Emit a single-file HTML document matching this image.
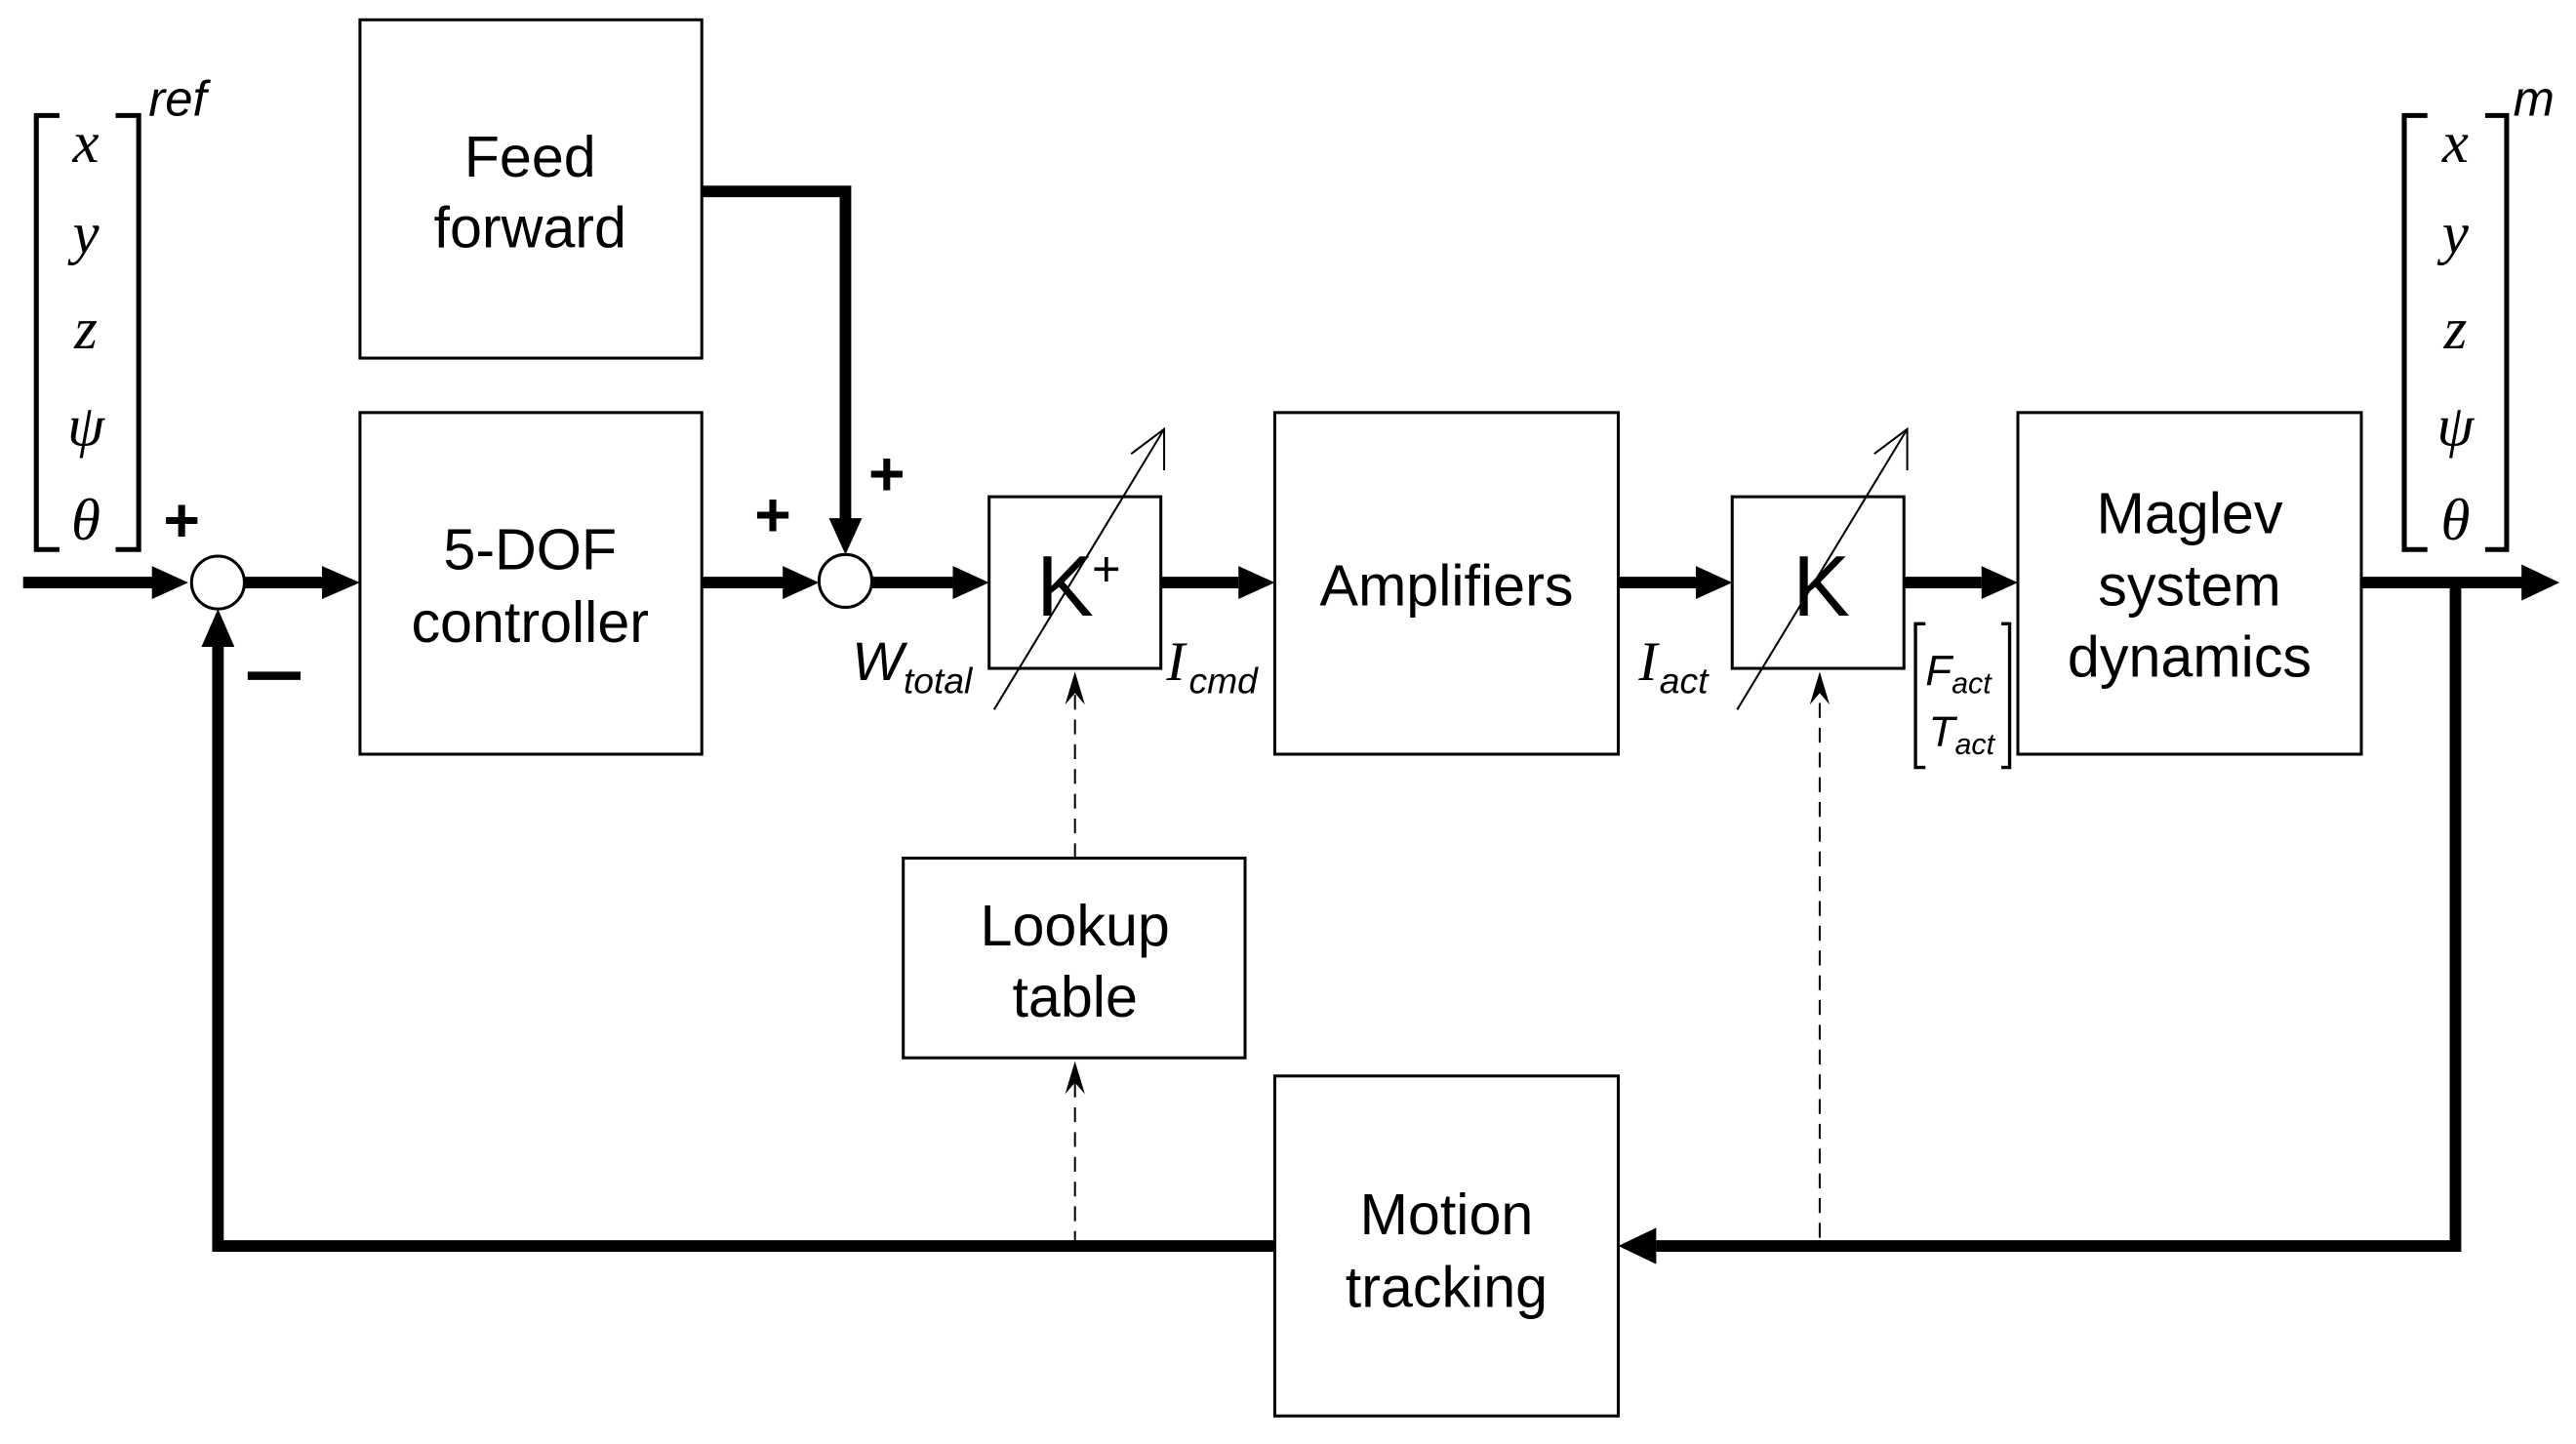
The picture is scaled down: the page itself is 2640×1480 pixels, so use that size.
<!DOCTYPE html>
<html><head><meta charset="utf-8"><style>html,body{margin:0;padding:0;background:#fff}svg{display:block}</style></head><body>
<svg width="2640" height="1480" viewBox="0 0 1560 875" preserveAspectRatio="none" xmlns="http://www.w3.org/2000/svg">
<g fill="none" stroke="#000" stroke-width="1.8">
<rect x="218" y="12" width="207" height="205"/>
<rect x="218" y="250" width="207" height="207"/>
<rect x="599" y="301" width="104" height="104"/>
<rect x="772" y="250" width="208" height="207"/>
<rect x="1049" y="301" width="104" height="104"/>
<rect x="1222" y="250" width="208" height="207"/>
<rect x="547" y="520" width="207" height="121"/>
<rect x="772" y="652" width="208" height="206"/>
<circle cx="132" cy="353" r="16"/>
<circle cx="512" cy="352" r="16"/>
</g>
<g stroke="#000" stroke-width="7" fill="none">
<line x1="14" y1="353" x2="95" y2="353"/>
<line x1="148" y1="353" x2="195" y2="353"/>
<line x1="425" y1="353" x2="475" y2="353"/>
<line x1="528" y1="353" x2="577" y2="353"/>
<line x1="703" y1="353" x2="750" y2="353"/>
<line x1="980" y1="353" x2="1027" y2="353"/>
<line x1="1153" y1="353" x2="1200" y2="353"/>
<line x1="1430" y1="353" x2="1528" y2="353"/>
<polyline points="425,116 512,116 512,315"/>
<polyline points="1487,353 1487,755 1003,755"/>
<polyline points="772,755 132,755 132,392"/>
</g>
<g fill="#000">
<polygon points="92,343 114,353 92,363"/>
<polygon points="195,343 218,353 195,363"/>
<polygon points="474,343 496,353 474,363"/>
<polygon points="577,343 599,353 577,363"/>
<polygon points="750,343 772,353 750,363"/>
<polygon points="1027,343 1049,353 1027,363"/>
<polygon points="1200,343 1222,353 1200,363"/>
<polygon points="1527,342 1550,353 1527,364"/>
<polygon points="502,314 512,336 522,314"/>
<polygon points="122,392 132,369 142,392"/>
<polygon points="1003,744 980,755 1003,766"/>
<polygon points="645,663 651,643 657,663 651,656"/>
<polygon points="645,427 651,407 657,427 651,420"/>
<polygon points="1096,427 1102,407 1108,427 1102,420"/>
</g>
<g stroke="#000" stroke-width="1.2" fill="none">
<line x1="651" y1="755" x2="651" y2="650" stroke-dasharray="9,6"/>
<line x1="651" y1="520" x2="651" y2="415" stroke-dasharray="9,6"/>
<line x1="1102" y1="750" x2="1102" y2="415" stroke-dasharray="9,6"/>
<line x1="602" y1="430" x2="705" y2="260"/>
<polyline points="685,275 705,260 705,285"/>
<line x1="1052" y1="430" x2="1155" y2="260"/>
<polyline points="1135,275 1155,260 1155,285"/>
</g>
<g stroke="#000" stroke-width="3" fill="none">
<polyline points="36,70 22,70 22,333 36,333"/>
<polyline points="70,70 84,70 84,333 70,333"/>
<polyline points="1470,70 1456,70 1456,333 1470,333"/>
<polyline points="1505,70 1518,70 1518,333 1505,333"/>
<polyline points="1166,378 1160,378 1160,465 1166,465" stroke-width="2"/>
<polyline points="1212,378 1217,378 1217,465 1212,465" stroke-width="2"/>
</g>
<g font-family="Liberation Sans, sans-serif" font-size="35" text-anchor="middle" fill="#000">
<text x="321" y="107">Feed</text>
<text x="321" y="150">forward</text>
<text x="321" y="345">5-DOF</text>
<text x="321" y="389">controller</text>
<text x="876" y="367">Amplifiers</text>
<text x="1326" y="323">Maglev</text>
<text x="1326" y="367">system</text>
<text x="1326" y="410">dynamics</text>
<text x="651" y="573">Lookup</text>
<text x="651" y="616">table</text>
<text x="876" y="748">Motion</text>
<text x="876" y="792">tracking</text>
<text x="645" y="373" font-size="52">K</text>
<text x="670" y="355" font-size="30">+</text>
<text x="1103" y="373" font-size="52">K</text>
<text x="110" y="328" font-size="38" font-weight="bold">+</text>
<text x="468" y="325" font-size="38" font-weight="bold">+</text>
<text x="537" y="300" font-size="38" font-weight="bold">+</text>
<rect x="150" y="407" width="32" height="5" stroke="none"/>
</g>
<g font-family="Liberation Serif, serif" font-style="italic" font-size="36" text-anchor="middle" fill="#000">
<text x="52" y="98">x</text>
<text x="52" y="153">y</text>
<text x="52" y="211">z</text>
<text x="52" y="270">ψ</text>
<text x="52" y="327">θ</text>
<text x="1487" y="98">x</text>
<text x="1487" y="153">y</text>
<text x="1487" y="211">z</text>
<text x="1487" y="270">ψ</text>
<text x="1487" y="327">θ</text>
<text x="712" y="412" font-size="34">I</text>
<text x="998" y="412" font-size="34">I</text>
</g>
<g font-family="Liberation Sans, sans-serif" font-style="italic" fill="#000">
<text x="90" y="70" font-size="30">ref</text>
<text x="1522" y="70" font-size="30">m</text>
<text x="516" y="412" font-size="33">W<tspan font-size="22" dy="8">total</tspan></text>
<text x="720" y="420" font-size="22">cmd</text>
<text x="1005" y="420" font-size="22">act</text>
<text x="1166" y="415" font-size="26">F<tspan font-size="18" dy="5">act</tspan></text>
<text x="1168" y="452" font-size="26">T<tspan font-size="18" dy="5">act</tspan></text>
</g>
</svg>
</body></html>
